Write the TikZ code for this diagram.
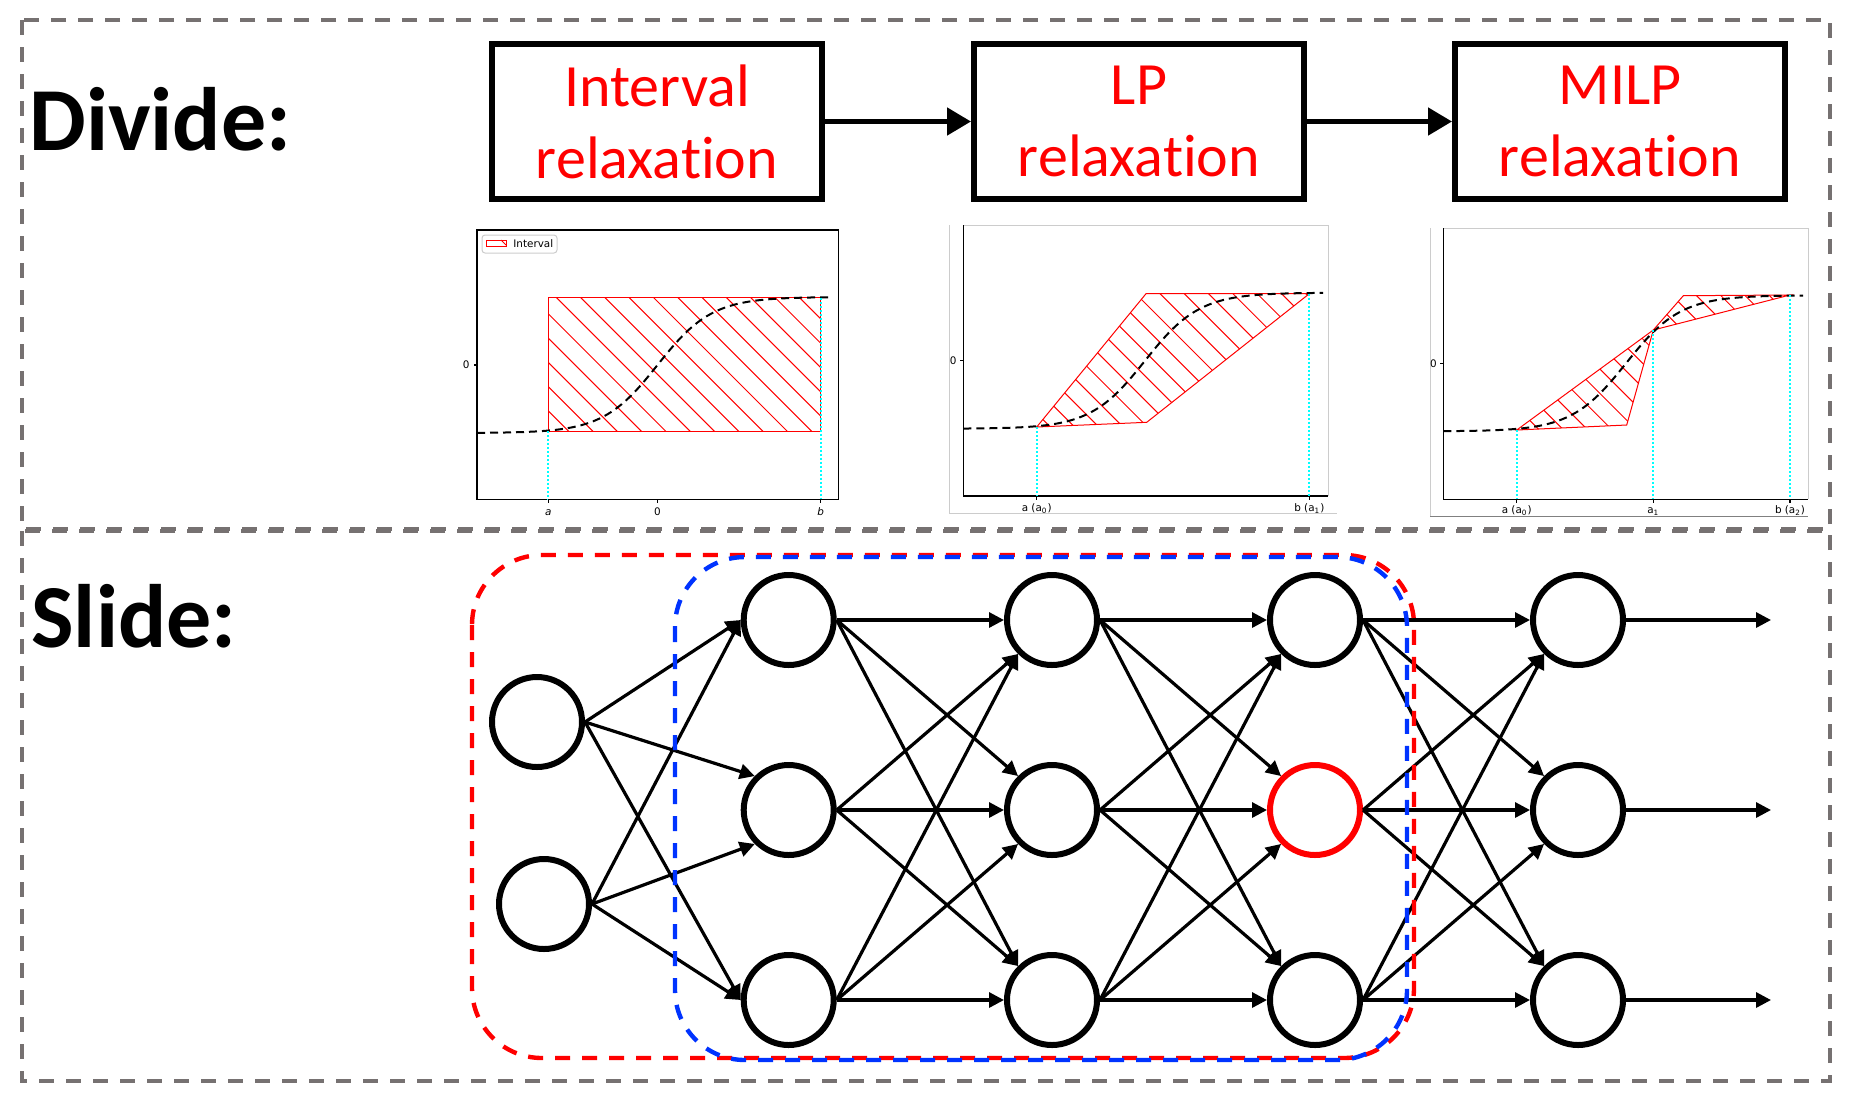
\documentclass[tikz,border=0pt]{standalone}
\usepackage{fontspec}
\setmainfont[Ligatures=NoCommon]{Carlito}
\newfontfamily\plotfont{DejaVu Sans}
\usetikzlibrary{arrows.meta}

\definecolor{framegray}{HTML}{767171}
\definecolor{slideblue}{HTML}{0033FF}
\definecolor{spinegray}{HTML}{CCCCCC}
\definecolor{boundcyan}{HTML}{00FFFF}

\tikzset{
  panel/.style={draw=framegray, line width=2.2pt, dash pattern=on 7.5pt off 6pt},
  heading/.style={anchor=base west, inner sep=0pt, font=\bfseries\fontsize{45}{54}\selectfont},
  stagebox/.style={draw, line width=3pt, minimum width=165pt, minimum height=77.5pt,
    align=center, text=red, inner sep=0pt, font=\fontsize{30}{36}\selectfont},
  flow/.style={-{Triangle[length=12pt,width=13.5pt]}, line width=2.5pt},
  neuron/.style={circle, draw, line width=3pt, minimum size=45pt, inner sep=0pt},
  hl42/.style={draw=red},
  link/.style={-{Triangle[length=7.5pt,width=7.5pt]}, line width=1.6pt},
  window/.style={line width=2.2pt, dash pattern=on 7.5pt off 6pt, rounded corners=35pt},
  ticklabel/.style={font=\plotfont\fontsize{5.2}{6}\selectfont, inner sep=0pt},
  axis/.style={black, line width=0.6pt},
  crop/.style={spinegray, line width=0.5pt},
  relax/.style={draw=red, line width=0.5pt},
  hatchline/.style={red, line width=0.5pt},
  sigmoid/.style={black, line width=1pt, dash pattern=on 4pt off 2.5pt},
  bound/.style={boundcyan, line width=1pt, dash pattern=on 1pt off 1pt},
}

\begin{document}
\begin{tikzpicture}[x=0.5pt, y=-0.5pt]
  \useasboundingbox (0,0) rectangle (1851,1099);

  % the two panels
  \draw[panel] (22,20) rectangle (1830,529);
  \draw[panel] (22,531) rectangle (1830,1081);
  \node[heading] (divide) at (29,150) {Divide:};
  \node[heading] (slide) at (31,647) {Slide:};

  % relaxation chain
  \node[stagebox] (interval) at (657,121.5) {Interval\\relaxation};
  \node[stagebox] (lp) at (1139,121.5) {LP\\relaxation};
  \node[stagebox] (milp) at (1620,121.5) {MILP\\relaxation};
  \draw[flow] (interval) -- (lp);
  \draw[flow] (lp) -- (milp);

  % interval plot
  \draw[axis] (477,230) rectangle (838.3,499.3);
  \begin{scope}
    \clip (548.3,297.7) rectangle (820.7,431);
    \foreach \c in {88.7,113,...,550} \draw[hatchline] (\c,0) -- ++(600,600);
  \end{scope}
  \draw[relax] (548.3,297.7) rectangle (820.7,431);
  \draw[sigmoid] plot[domain=477:833, samples=80] (\x,{365-68*tanh((\x-657.5)/54.5)});
  \draw[bound] (548.3,431) -- (548.3,499.3);
  \draw[bound] (820.7,297.7) -- (820.7,499.3);
  \foreach \t in {548.3,657.5,820.7} \draw[axis] (\t,499.3) -- (\t,503);
  \draw[axis] (477,365) -- (473.5,365);
  \node[ticklabel, anchor=base] (ia) at (548.3,515) {\textit{a}};
  \node[ticklabel, anchor=base] (izero) at (657.5,515) {0};
  \node[ticklabel, anchor=base] (ib) at (820.7,515) {\textit{b}};
  \node[ticklabel, anchor=east] (iy) at (470,365) {0};
  \draw[crop, rounded corners=1.5pt, fill=white] (482,235) rectangle (557,253);
  \draw[relax] (486,240) rectangle (506,246.5);
  \draw[hatchline] (501,240) -- (506,245);
  \node[ticklabel, anchor=west] (legend) at (513,244) {Interval};

  % LP plot
  \draw[crop] (949,225) -- (949,513) -- (1337,513);
  \draw[crop] (963.3,225) -- (1328,225) -- (1328,496);
  \draw[axis] (963.3,225) -- (963.3,496) -- (1328,496);
  \begin{scope}
    \clip (1036.7,427) -- (1146,293.7) -- (1309.3,293.7) -- (1146.7,422.3) -- cycle;
    \foreach \c in {574.7,599,...,1060} \draw[hatchline] (\c,0) -- ++(600,600);
  \end{scope}
  \draw[relax] (1036.7,427) -- (1146,293.7) -- (1309.3,293.7) -- (1146.7,422.3) -- cycle;
  \draw[sigmoid] plot[domain=963.3:1323, samples=80] (\x,{360.7-68*tanh((\x-1145)/54.5)});
  \draw[bound] (1036.7,427) -- (1036.7,496);
  \draw[bound] (1309.3,293.7) -- (1309.3,496);
  \foreach \t in {1036.7,1309.3} \draw[axis] (\t,496) -- (\t,499.7);
  \draw[axis] (963.3,360.7) -- (959.8,360.7);
  \node[ticklabel, anchor=base] (la) at (1036.7,511.5) {a (a\textsubscript{0})};
  \node[ticklabel, anchor=base] (lb) at (1309.3,511.5) {b (a\textsubscript{1})};
  \node[ticklabel, anchor=east] (ly) at (957,360.7) {0};

  % MILP plot
  \draw[crop] (1430,228.3) -- (1430,516.7);
  \draw[gray, line width=0.6pt] (1430,516.7) -- (1808.3,516.7);
  \draw[crop] (1443.3,228.3) -- (1808.3,228.3) -- (1808.3,499.3);
  \draw[axis] (1443.3,228.3) -- (1443.3,499.3) -- (1808.3,499.3);
  \begin{scope}
    \clip (1516.7,430) -- (1626.7,425) -- (1653.3,330) -- cycle
          (1653.3,330) -- (1683.3,295.7) -- (1790,295) -- cycle;
    \foreach \c in {1060.7,1085,...,1520} \draw[hatchline] (\c,0) -- ++(600,600);
  \end{scope}
  \draw[relax] (1516.7,430) -- (1626.7,425) -- (1653.3,330) -- cycle;
  \draw[relax] (1653.3,330) -- (1683.3,295.7) -- (1790,295) -- cycle;
  \draw[sigmoid] plot[domain=1443.3:1803, samples=80] (\x,{363.3-68*tanh((\x-1626)/54.7)});
  \draw[bound] (1516.7,430) -- (1516.7,499.3);
  \draw[bound] (1653.3,330) -- (1653.3,499.3);
  \draw[bound] (1790,295) -- (1790,499.3);
  \foreach \t in {1516.7,1653.3,1790} \draw[axis] (\t,499.3) -- (\t,503);
  \draw[axis] (1443.3,363.3) -- (1439.8,363.3);
  \node[ticklabel, anchor=base] (ma) at (1516.7,513.5) {a (a\textsubscript{0})};
  \node[ticklabel, anchor=base] (mm) at (1653.3,513.5) {a\textsubscript{1}};
  \node[ticklabel, anchor=base] (mb) at (1790,513.5) {b (a\textsubscript{2})};
  \node[ticklabel, anchor=east] (my) at (1437,363.3) {0};

  % network
  \node[neuron] (i1) at (537,722) {};
  \node[neuron] (i2) at (544,904) {};
  \foreach \l/\x in {2/788.7,3/1052,4/1315,5/1578}
    \foreach \r/\y in {1/620,2/810,3/1000}
      \node[neuron, hl\l\r/.try] (n\l\r) at (\x,\y) {};
  \foreach \r/\y in {1/620,2/810,3/1000}
    \coordinate (o\r) at (1771,\y);

  \foreach \s in {1,2} {
    \draw[link] (i\s.east) -- (n21.west);
    \draw[link] (i\s.east) -- (n23.west);
  }
  \draw[link] (i1.east) -- (n22.north west);
  \draw[link] (i2.east) -- (n22.south west);
  \foreach \l/\m in {2/3,3/4,4/5}
    \foreach \s in {1,2,3}
      \foreach \t in {1,2,3} {
        \ifnum\s<\t \def\tgt{north west}\else\ifnum\s>\t \def\tgt{south west}\else\def\tgt{west}\fi\fi
        \draw[link] (n\l\s.east) -- (n\m\t.\tgt);
      }
  \foreach \r in {1,2,3} \draw[link] (n5\r.east) -- (o\r);

  % sliding windows
  \draw[window, red] (472,555) rectangle (1414,1058);
  \draw[window, slideblue] (675,557) rectangle (1407,1060);
\end{tikzpicture}
\end{document}
